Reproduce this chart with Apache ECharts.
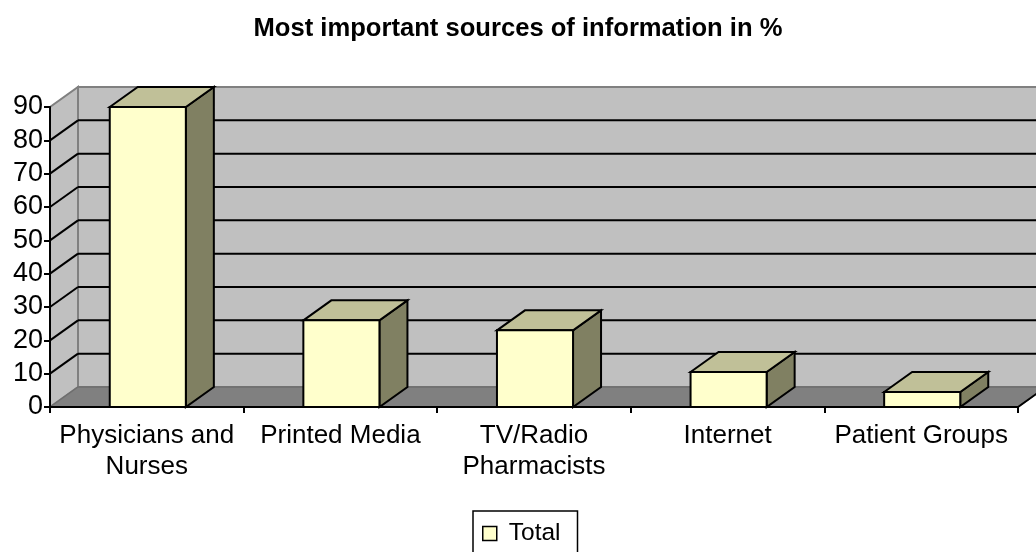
<!DOCTYPE html>
<html>
<head>
<meta charset="utf-8">
<script src="https://cdn.jsdelivr.net/npm/echarts@6/dist/echarts.min.js"></script>
<style>
html,body{margin:0;padding:0;background:#fff;}
#chart{width:1036px;height:552px;}
</style>
</head>
<body>
<div id="chart"></div>
<script>
// ---- data ----
const titleText = 'Most important sources of information in %';
const categories = ['Physicians and\nNurses', 'Printed Media', 'TV/Radio\nPharmacists', 'Internet', 'Patient Groups'];
const seriesName = 'Total';
const values = [90, 26, 23, 10.5, 4.5];
const yTicks = [0, 10, 20, 30, 40, 50, 60, 70, 80, 90];

// ---- style constants ----
const FONT = '"Liberation Sans", Arial, sans-serif';
const DEPTH = [28, -20];   // 3D depth offset (px)
const BAR_RATIO = 0.393;

const chart = echarts.init(document.getElementById('chart'), null, {renderer: 'canvas'});

function renderWalls(params, api) {
  const cs = params.coordSys;
  const x = cs.x, y = cs.y, w = cs.width, h = cs.height;
  const dx = DEPTH[0], dy = DEPTH[1];
  const children = [];
  children.push({type: 'rect', shape: {x: x + dx, y: y + dy, width: w, height: h},
    style: {fill: '#c0c0c0', stroke: '#808080', lineWidth: 2}});
  children.push({type: 'polygon', shape: {points: [[x, y], [x + dx, y + dy], [x + dx, y + h + dy], [x, y + h]]},
    style: {fill: '#c0c0c0', stroke: '#808080', lineWidth: 2}});
  children.push({type: 'polygon', shape: {points: [[x, y + h], [x + dx, y + h + dy], [x + w + dx, y + h + dy], [x + w, y + h]]},
    style: {fill: '#808080', stroke: '#6e6e6e', lineWidth: 1.5}});
  children.push({type: 'line', shape: {x1: x + w, y1: y + h, x2: x + w + dx, y2: y + h + dy},
    style: {stroke: '#000', lineWidth: 2}});
  const maxT = yTicks[yTicks.length - 1];
  yTicks.forEach(function (t) {
    if (t === 0 || t === maxT) return;
    const yy = api.coord([0, t])[1];
    children.push({type: 'line', shape: {x1: x + dx, y1: yy + dy, x2: x + w + dx, y2: yy + dy},
      style: {stroke: '#000', lineWidth: 2}});
    children.push({type: 'line', shape: {x1: x, y1: yy, x2: x + dx, y2: yy + dy},
      style: {stroke: '#000', lineWidth: 2}});
  });
  return {type: 'group', children: children};
}

function renderBar(params, api) {
  const i = api.value(0), v = api.value(1);
  const base = api.coord([i, 0]);
  const top = api.coord([i, v]);
  const bw = api.size([1, 0])[0] * BAR_RATIO;
  const dx = DEPTH[0], dy = DEPTH[1];
  const x0 = base[0] - bw / 2 + 1, x1 = x0 + bw;
  const yT = top[1], yB = base[1];
  const st = {stroke: '#000', lineWidth: 2, lineJoin: 'miter'};
  return {type: 'group', children: [
    {type: 'polygon', shape: {points: [[x1, yT], [x1 + dx, yT + dy], [x1 + dx, yB + dy], [x1, yB]]},
      style: Object.assign({fill: '#808062'}, st)},
    {type: 'polygon', shape: {points: [[x0, yT], [x0 + dx, yT + dy], [x1 + dx, yT + dy], [x1, yT]]},
      style: Object.assign({fill: '#c0c098'}, st)},
    {type: 'rect', shape: {x: x0, y: yT, width: bw, height: yB - yT},
      style: Object.assign({fill: '#ffffcc'}, st)}
  ]};
}

const option = {
  animation: false,
  backgroundColor: '#ffffff',
  title: {
    text: titleText, left: 'center', top: 16, padding: 0,
    textStyle: {fontFamily: FONT, fontSize: 25.6, fontWeight: 'bold', color: '#000'}
  },
  legend: {
    data: [{name: seriesName, icon: 'rect', itemStyle: {color: '#ffffcc', borderColor: '#000', borderWidth: 1.5}}],
    left: 473, top: 511,
    padding: [10, 17, 10, 9],
    borderColor: '#000', borderWidth: 1.5,
    itemWidth: 14, itemHeight: 14,
    textStyle: {fontFamily: FONT, fontSize: 24.5, color: '#000', padding: [0, 0, 0, 7]}
  },
  grid: {left: 50, right: 18, top: 107, bottom: 145, containLabel: false},
  xAxis: {
    type: 'category', data: categories, boundaryGap: true, z: 5,
    axisLine: {show: true, lineStyle: {color: '#000', width: 2}},
    axisTick: {show: true, interval: 0, length: 6, lineStyle: {color: '#000', width: 2}},
    axisLabel: {interval: 0, margin: 13, fontFamily: FONT, fontSize: 26, lineHeight: 31, color: '#000'},
    splitLine: {show: false}
  },
  yAxis: {
    type: 'value', min: 0, max: 90, interval: 10, z: 5,
    axisLine: {show: true, lineStyle: {color: '#000', width: 2}},
    axisTick: {show: true, length: 6, lineStyle: {color: '#000', width: 2}},
    axisLabel: {margin: 7, fontFamily: FONT, fontSize: 27, color: '#000'},
    splitLine: {show: false}
  },
  series: [
    {type: 'custom', name: 'walls', z: 1, silent: true, renderItem: renderWalls, data: [[0, 0]]},
    {type: 'custom', name: seriesName, z: 2, renderItem: renderBar,
      itemStyle: {color: '#ffffcc'},
      encode: {x: 0, y: 1},
      data: values.map(function (v, i) { return [i, v]; })}
  ]
};
chart.setOption(option);
</script>
</body>
</html>
